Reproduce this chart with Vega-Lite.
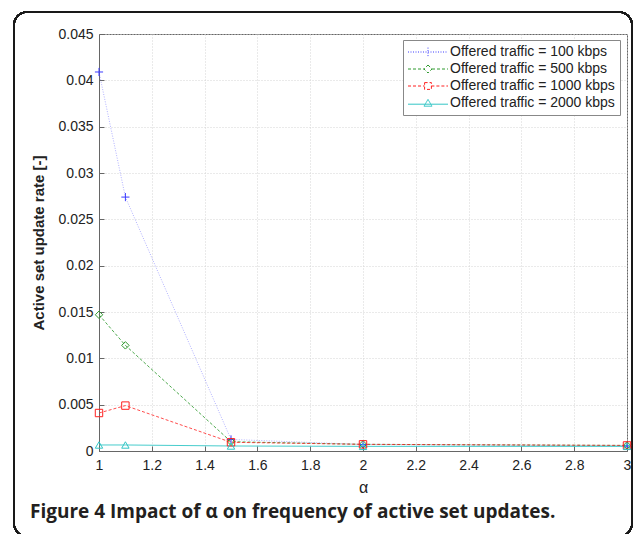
{
  "$schema": "https://vega.github.io/schema/vega-lite/v6.json",
  "width": 528,
  "height": 417,
  "autosize": {"type": "none"},
  "padding": {"left": 99, "top": 34, "right": 9, "bottom": 83},
  "background": "white",
  "title": {
    "text": "Figure 4 Impact of α on frequency of active set updates.",
    "orient": "bottom",
    "anchor": "start",
    "frame": "group",
    "dx": -69,
    "dy": -34,
    "offset": 0,
    "font": "Open Sans",
    "fontWeight": "bold",
    "fontSize": 19,
    "color": "#231f20"
  },
  "data": {
    "values": [
      {"series": "Offered traffic = 100 kbps", "alpha": 1, "rate": 0.0409},
      {"series": "Offered traffic = 100 kbps", "alpha": 1.1, "rate": 0.0274},
      {"series": "Offered traffic = 100 kbps", "alpha": 1.5, "rate": 0.00125},
      {"series": "Offered traffic = 100 kbps", "alpha": 2, "rate": 0.0007},
      {"series": "Offered traffic = 100 kbps", "alpha": 3, "rate": 0.00055},
      {"series": "Offered traffic = 500 kbps", "alpha": 1, "rate": 0.0147},
      {"series": "Offered traffic = 500 kbps", "alpha": 1.1, "rate": 0.0114},
      {"series": "Offered traffic = 500 kbps", "alpha": 1.5, "rate": 0.001},
      {"series": "Offered traffic = 500 kbps", "alpha": 2, "rate": 0.00072},
      {"series": "Offered traffic = 500 kbps", "alpha": 3, "rate": 0.0006},
      {"series": "Offered traffic = 1000 kbps", "alpha": 1, "rate": 0.0041},
      {"series": "Offered traffic = 1000 kbps", "alpha": 1.1, "rate": 0.0049},
      {"series": "Offered traffic = 1000 kbps", "alpha": 1.5, "rate": 0.00094},
      {"series": "Offered traffic = 1000 kbps", "alpha": 2, "rate": 0.00072},
      {"series": "Offered traffic = 1000 kbps", "alpha": 3, "rate": 0.0006},
      {"series": "Offered traffic = 2000 kbps", "alpha": 1, "rate": 0.00065},
      {"series": "Offered traffic = 2000 kbps", "alpha": 1.1, "rate": 0.00065},
      {"series": "Offered traffic = 2000 kbps", "alpha": 1.5, "rate": 0.00054},
      {"series": "Offered traffic = 2000 kbps", "alpha": 2, "rate": 0.0005},
      {"series": "Offered traffic = 2000 kbps", "alpha": 3, "rate": 0.0005}
    ]
  },
  "config": {
    "view": {"stroke": "#666666", "strokeWidth": 1},
    "font": "Liberation Sans",
    "axis": {
      "labelFont": "Liberation Sans",
      "labelFontSize": 14,
      "labelColor": "#222222",
      "titleFont": "Liberation Sans",
      "titleFontSize": 15,
      "titleFontWeight": "bold",
      "titleColor": "#222222",
      "domainColor": "#666666",
      "tickColor": "#666666",
      "tickSize": -5,
      "gridColor": "#d4d4d4",
      "gridDash": [1, 2],
      "gridWidth": 1
    }
  },
  "encoding": {
    "x": {
      "field": "alpha",
      "type": "quantitative",
      "scale": {"domain": [1, 3], "nice": false, "zero": false},
      "axis": {
        "title": "α",
        "titleFontWeight": "normal",
        "titleFontSize": 16,
        "values": [1, 1.2, 1.4, 1.6, 1.8, 2, 2.2, 2.4, 2.6, 2.8, 3],
        "format": "~g",
        "labelPadding": 12,
        "titlePadding": 7,
        "labelFlush": false
      }
    },
    "y": {
      "field": "rate",
      "type": "quantitative",
      "scale": {"domain": [0, 0.045], "nice": false},
      "axis": {
        "title": "Active set update rate [-]",
        "values": [0, 0.005, 0.01, 0.015, 0.02, 0.025, 0.03, 0.035, 0.04, 0.045],
        "format": "~g",
        "labelPadding": 11,
        "titlePadding": 11,
        "labelFlush": false
      }
    },
    "color": {
      "field": "series",
      "type": "nominal",
      "scale": {
        "domain": ["Offered traffic = 100 kbps", "Offered traffic = 500 kbps", "Offered traffic = 1000 kbps", "Offered traffic = 2000 kbps"],
        "range": ["#3c3cff", "#2f9a2f", "#ff2020", "#33c6c6"]
      },
      "legend": {
        "title": null,
        "orient": "none",
        "legendX": 304,
        "legendY": 6,
        "padding": 5,
        "fillColor": "white",
        "strokeColor": "#888888",
        "labelFont": "Liberation Sans",
        "labelFontSize": 14,
        "labelColor": "#222222",
        "labelLimit": 300,
        "symbolSize": 64,
        "symbolStrokeWidth": 1,
        "symbolOffset": 13,
        "labelOffset": 15,
        "rowPadding": 3,
        "encoding": {
          "symbols": {
            "size": {"value": 64},
            "opacity": {"value": 1},
            "fill": {"value": "transparent"},
            "strokeDash": {
              "value": {"signal": "datum.index === 0 ? [1, 1.5] : datum.index === 3 ? [1, 0] : [3, 2]"}
            },
            "shape": {
              "value": {
                "signal": "datum.index === 0 ? 'M-5,0H5M0,-1.1V1.1' : datum.index === 1 ? 'M-5,0H-1M1,0H5M0,-1L1,0L0,1L-1,0Z' : datum.index === 2 ? 'M-5,0H-0.85M0.85,0H5M-0.85,-0.85H0.85V0.85H-0.85Z' : 'M-5,0.3H5M0,-0.9L1,0.8H-1Z'"
              }
            }
          }
        }
      }
    }
  },
  "layer": [
    {
      "mark": {"type": "rect", "fill": null, "stroke": "#1a1a1a", "strokeWidth": 1.6, "cornerRadius": 13, "clip": false},
      "encoding": {
        "x": {"datum": 0.678},
        "x2": {"datum": 3.019},
        "y": {"datum": 0.04737},
        "y2": {"datum": -0.0092},
        "color": {"value": null}
      }
    },
    {
      "transform": [{"filter": "datum.series === 'Offered traffic = 100 kbps'"}],
      "mark": {"type": "line", "strokeWidth": 1, "strokeDash": [1, 1.5], "opacity": 0.4}
    },
    {
      "transform": [{"filter": "datum.series === 'Offered traffic = 500 kbps'"}],
      "mark": {"type": "line", "strokeWidth": 1, "strokeDash": [3, 2], "opacity": 0.85}
    },
    {
      "transform": [{"filter": "datum.series === 'Offered traffic = 1000 kbps'"}],
      "mark": {"type": "line", "strokeWidth": 1, "strokeDash": [3, 2], "opacity": 0.8}
    },
    {
      "transform": [{"filter": "datum.series === 'Offered traffic = 2000 kbps'"}],
      "mark": {"type": "line", "strokeWidth": 1, "opacity": 0.9}
    },
    {
      "transform": [{"filter": "datum.series === 'Offered traffic = 100 kbps'"}],
      "mark": {"type": "point", "filled": false, "size": 55, "strokeWidth": 1, "opacity": 1, "shape": "M-1.1,0H1.1M0,-1.1V1.1"}
    },
    {
      "transform": [{"filter": "datum.series === 'Offered traffic = 500 kbps'"}],
      "mark": {"type": "point", "filled": false, "size": 55, "strokeWidth": 1, "opacity": 1, "shape": "diamond"}
    },
    {
      "transform": [{"filter": "datum.series === 'Offered traffic = 1000 kbps'"}],
      "mark": {"type": "point", "filled": false, "size": 55, "strokeWidth": 1, "opacity": 1, "shape": "square"}
    },
    {
      "transform": [{"filter": "datum.series === 'Offered traffic = 2000 kbps'"}],
      "mark": {"type": "point", "filled": false, "size": 55, "strokeWidth": 1, "opacity": 1, "shape": "triangle-up"}
    }
  ]
}
